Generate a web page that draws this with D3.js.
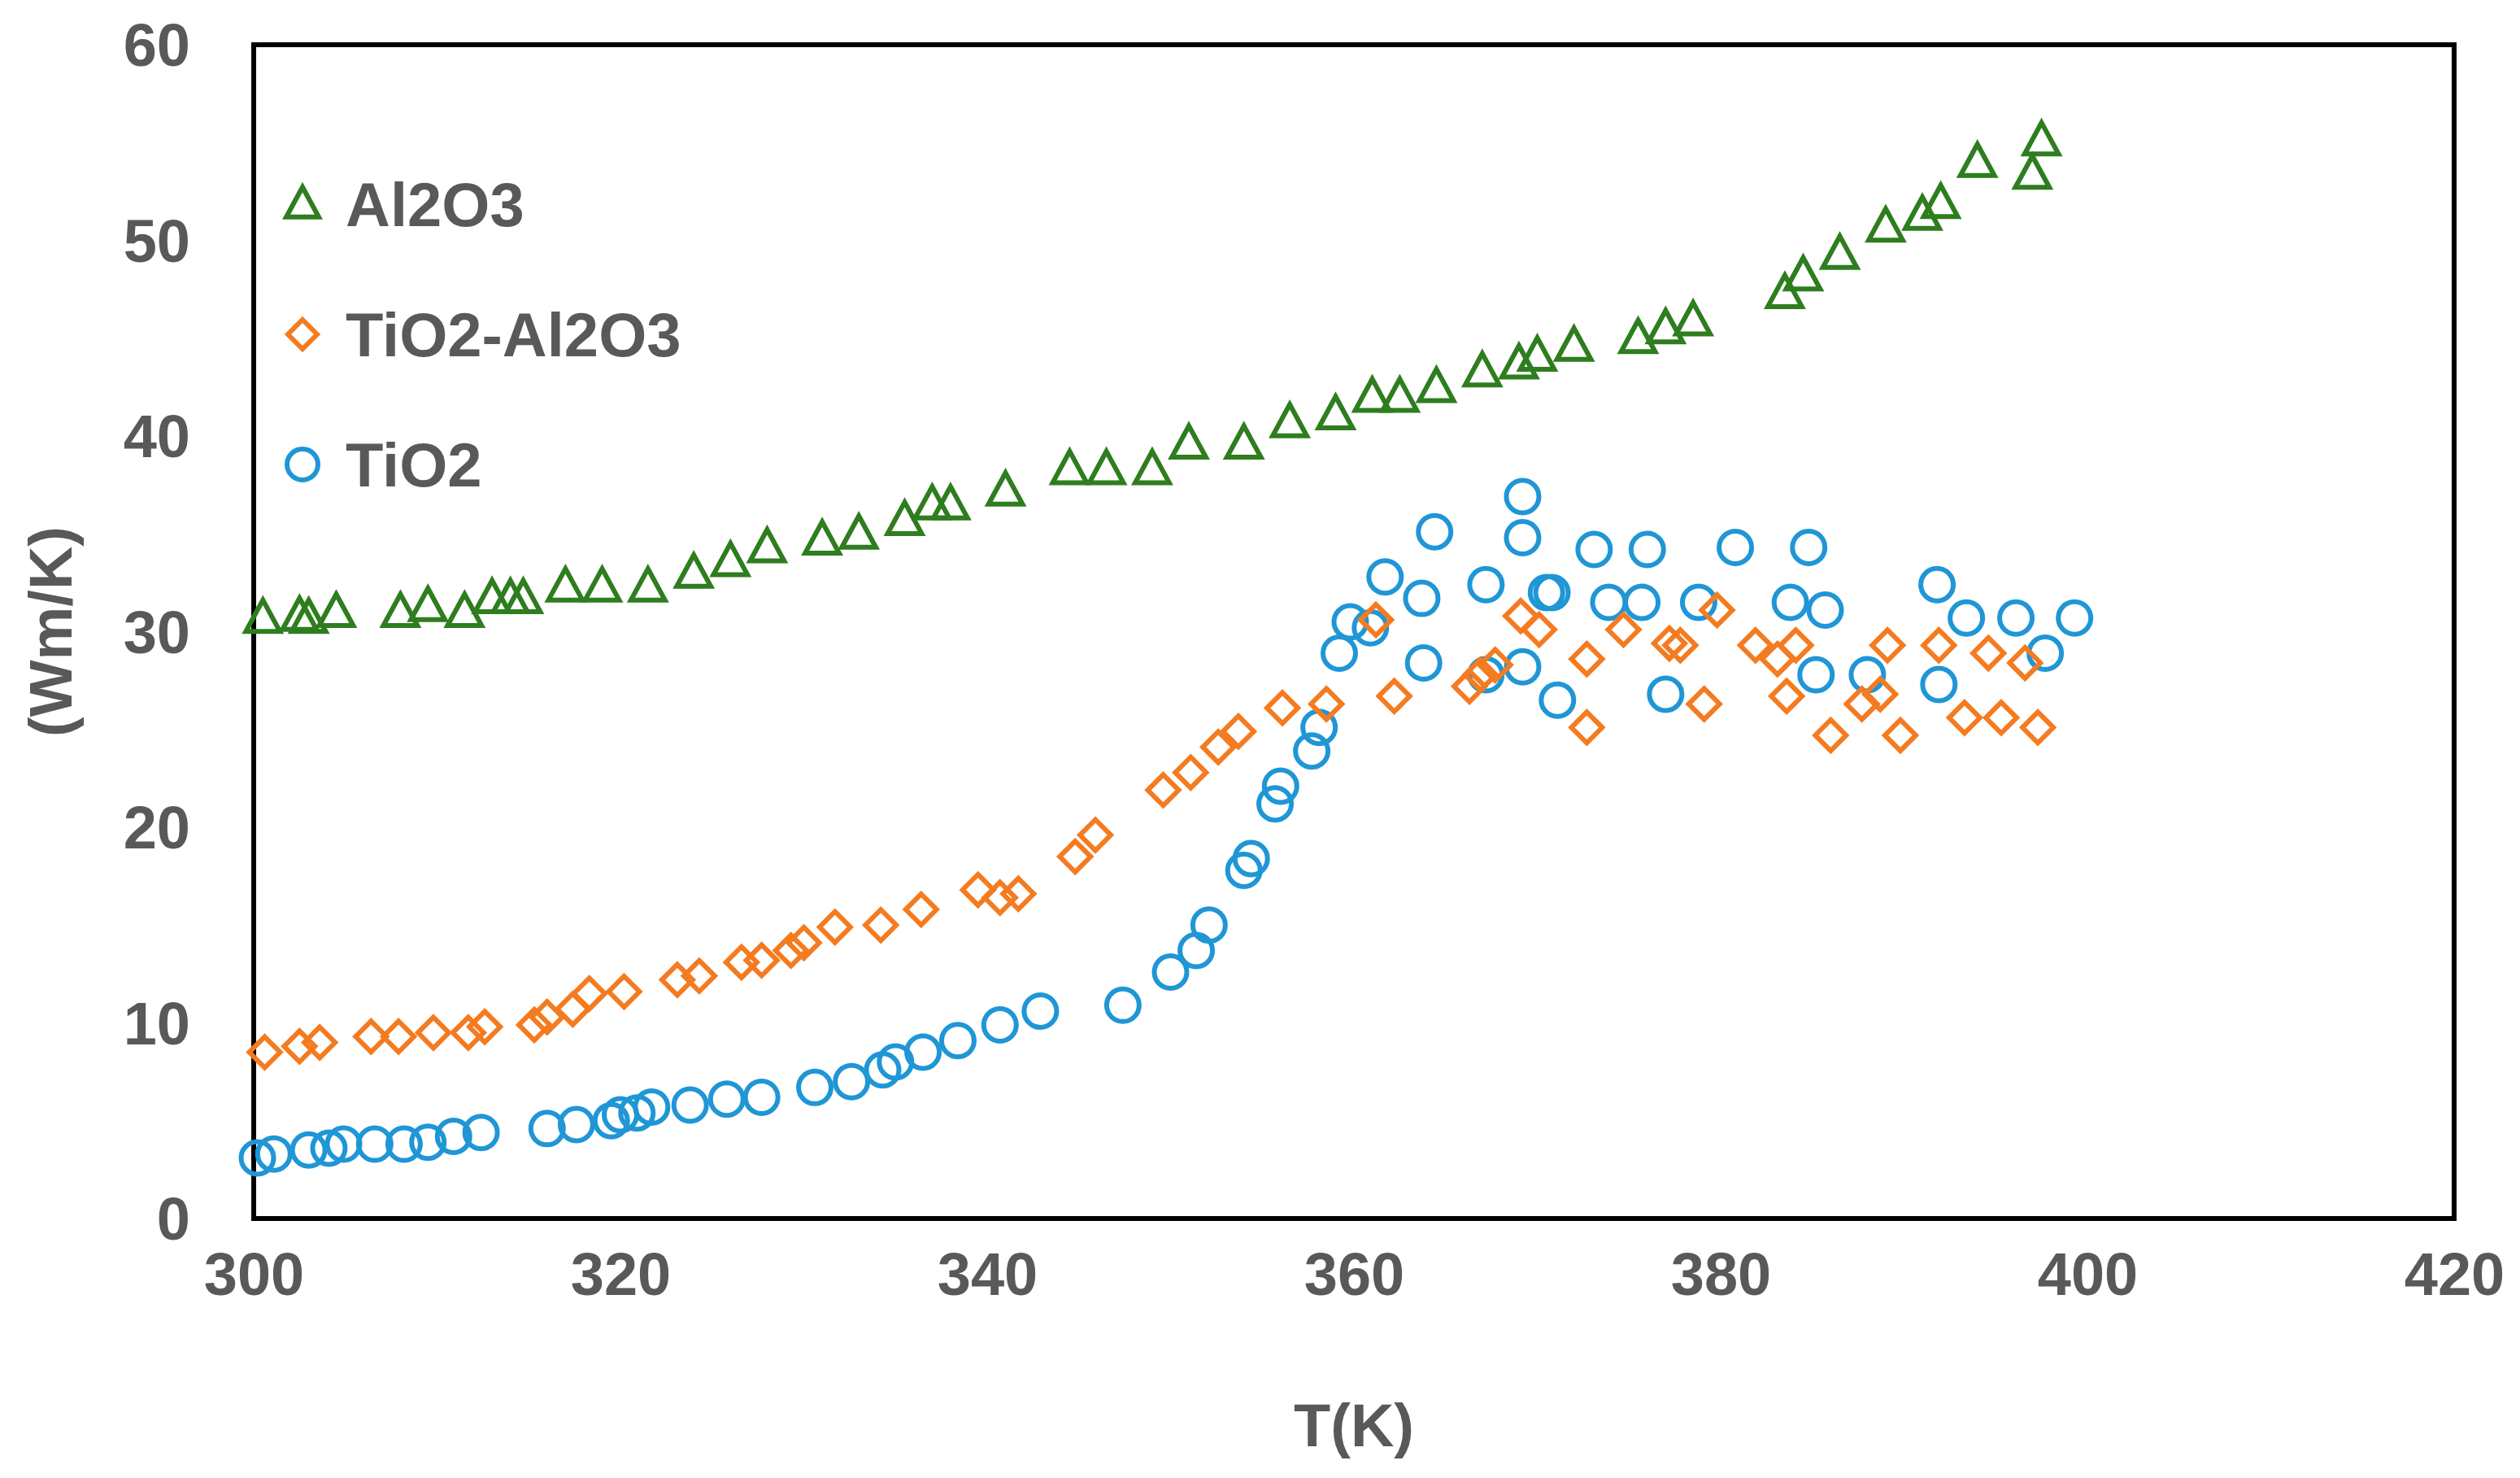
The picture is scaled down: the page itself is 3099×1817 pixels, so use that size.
<!DOCTYPE html>
<html><head><meta charset="utf-8">
<script src="https://cdn.jsdelivr.net/npm/d3@7/dist/d3.min.js"></script>
<style>body{margin:0;background:#fff}</style></head>
<body><svg id="c" width="3099" height="1817"></svg>
<script>
const al2o3T=[300.5,302.5,303,304.5,308,309.5,311.5,313,314,314.7,317,319,321.5,324,326,328,331,333,335.5,337,338,341,344.5,346.5,349,351,354,356.5,359,361,362.5,364.5,367,369,370,372,375.5,377,378.5,383.5,384.5,386.5,389,391,392,394,397,397.5];
const al2o3K=[30.7,30.8,30.7,31,31,31.3,31,31.7,31.7,31.7,32.3,32.3,32.3,33,33.6,34.3,34.7,35,35.7,36.5,36.5,37.2,38.3,38.3,38.3,39.6,39.6,40.7,41.1,42,42,42.5,43.3,43.7,44.1,44.6,45,45.5,45.9,47.3,48.2,49.3,50.7,51.3,51.9,54,53.4,55.1];
const mixT=[300.6,302.5,303.6,306.4,307.9,309.8,311.7,312.6,315.3,316,317.4,318.3,320.2,323.1,324.3,326.6,327.7,329.3,330,331.7,334.2,336.4,339.5,340.7,341.7,344.8,345.9,349.6,351.1,352.6,353.7,356.1,358.5,361.2,362.2,366.3,366.9,367.7,369.1,370.1,372.7,372.7,374.7,377.2,377.8,379.1,379.8,381.9,383.1,383.6,384.1,386,387.7,388.7,389.1,389.8,391.9,393.3,394.6,395.3,396.6,397.3];
const mixK=[8.5,8.8,9.0,9.3,9.3,9.5,9.5,9.8,9.9,10.3,10.7,11.5,11.6,12.2,12.4,13.1,13.2,13.7,14.1,14.9,15.0,15.8,16.8,16.4,16.6,18.5,19.6,21.9,22.8,24.1,24.9,26.1,26.3,30.6,26.7,27.2,27.8,28.3,30.8,30.1,28.6,25.1,30.1,29.4,29.3,26.3,31.1,29.3,28.6,26.7,29.3,24.7,26.3,26.8,29.3,24.7,29.3,25.6,28.9,25.6,28.4,25.1];
const tio2T=[300.2,301.1,303,304.1,304.9,306.6,308.2,309.5,310.9,312.4,316,317.6,319.5,320,320.9,321.7,323.8,325.8,327.7,330.6,332.6,334.3,335,336.5,338.4,340.7,342.9,347.4,350,351.4,352.1,354,354.4,355.7,356,357.7,358.1,359.2,359.8,360.9,361.7,363.8,363.7,364.4,367.2,367.2,369.2,369.2,369.2,370.5,370.8,371.1,373.1,373.9,376,375.7,377,378.8,380.8,383.8,384.8,385.2,385.7,388,391.8,391.9,393.4,396.1,397.7,399.3];
const tio2K=[3.1,3.3,3.5,3.6,3.8,3.8,3.8,3.9,4.2,4.4,4.6,4.8,5.0,5.3,5.4,5.7,5.8,6.1,6.2,6.7,7.0,7.6,8.0,8.5,9.1,9.9,10.6,10.9,12.6,13.7,15.0,17.8,18.4,21.2,22.1,23.9,25.1,28.9,30.5,30.2,32.8,28.4,31.7,35.1,32.4,27.8,28.2,34.8,36.9,32.0,32.0,26.5,34.2,31.5,34.2,31.5,26.8,31.5,34.3,31.5,34.3,27.8,31.1,27.8,32.4,27.3,30.7,30.7,28.9,30.7];
const xTicks=[300,320,340,360,380,400,420];
const yTicks=[0,10,20,30,40,50,60];
const seriesNames=["Al2O3","TiO2-Al2O3","TiO2"];
const colors=["#2e7d1e","#f47b20","#1f96d6"];

const svg=d3.select("#c");
const L=312,R=3018,T=55,B=1498;
const x=d3.scaleLinear().domain([300,420]).range([L,R]);
const y=d3.scaleLinear().domain([0,60]).range([B,T]);
const font="'Liberation Sans', Arial, sans-serif";
svg.append("rect").attr("x",L).attr("y",T).attr("width",R-L).attr("height",B-T).attr("fill","none").attr("stroke","#000").attr("stroke-width",6);

const xa=svg.append("g").attr("transform",`translate(0,${B})`).call(d3.axisBottom(x).tickValues(xTicks).tickSize(0).tickPadding(68).tickFormat(d3.format("d")));
const ya=svg.append("g").attr("transform",`translate(${L},0)`).call(d3.axisLeft(y).tickValues(yTicks).tickSize(0).tickPadding(78).tickFormat(d3.format("d")));
[xa,ya].forEach(a=>{a.select(".domain").remove();a.selectAll("text").attr("font-family",font).attr("font-weight","bold").attr("font-size",74).attr("fill","#595959");});
xa.selectAll("text").attr("dy","0.35em");
ya.selectAll("text").attr("dy","0.35em");

svg.append("text").attr("x",(L+R)/2).attr("y",1778).attr("text-anchor","middle").attr("font-family",font).attr("font-weight","bold").attr("font-size",74).attr("fill","#595959").text("T(K)");
svg.append("text").attr("transform",`translate(88,${(T+B)/2}) rotate(-90)`).attr("text-anchor","middle").attr("font-family",font).attr("font-weight","bold").attr("font-size",74).attr("fill","#595959").text("(Wm/K)");

const sw=6;
const triPath=s=>`M0,${-s}L${s*0.95},${s*0.75}L${-s*0.95},${s*0.75}Z`;
const diaPath=s=>`M0,${-s}L${s},0L0,${s}L${-s},0Z`;
const circPath=r=>`M${r},0A${r},${r},0,1,1,${-r},0A${r},${r},0,1,1,${r},0Z`;
function draw(Ts,Ks,d,col){
  svg.append("g").selectAll("path").data(Ts.map((t,i)=>[t,Ks[i]])).join("path")
   .attr("transform",p=>`translate(${x(p[0])},${y(p[1])})`).attr("d",d)
   .attr("fill","none").attr("stroke",col).attr("stroke-width",sw).attr("stroke-linejoin","miter");
}
draw(tio2T,tio2K,circPath(20),colors[2]);
draw(mixT,mixK,diaPath(19),colors[1]);
draw(al2o3T,al2o3K,triPath(22),colors[0]);

const legY=[251,411,571], legD=[triPath(21),diaPath(18),circPath(19)];
seriesNames.forEach((n,i)=>{
  svg.append("path").attr("transform",`translate(372,${legY[i]})`).attr("d",legD[i]).attr("fill","none").attr("stroke",colors[i]).attr("stroke-width",sw);
  svg.append("text").attr("x",425).attr("y",legY[i]).attr("dy","0.35em").attr("font-family",font).attr("font-weight","bold").attr("font-size",76).attr("fill","#595959").text(n);
});
</script></body></html>
